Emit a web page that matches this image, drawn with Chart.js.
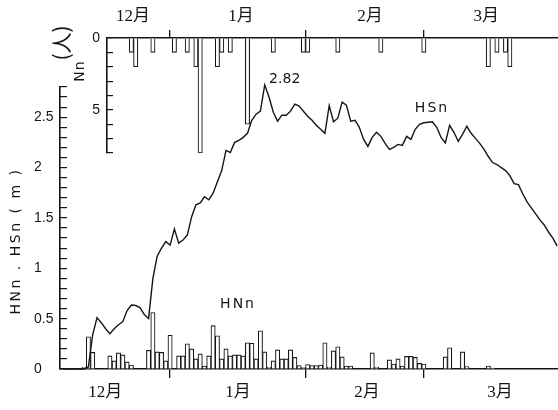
<!DOCTYPE html>
<html><head><meta charset="utf-8">
<script src="https://cdn.jsdelivr.net/npm/chart.js@4.4.1/dist/chart.umd.min.js"></script>
<style>
html,body{margin:0;padding:0;background:#fff;}
#wrap{position:relative;width:558px;height:410px;overflow:hidden;background:#fff;}
canvas{position:absolute;left:0;top:0;}
</style></head><body>
<div id="wrap"><canvas id="main" width="558" height="410"></canvas><canvas id="topc" width="558" height="410"></canvas></div>
<script>
// ---- data (day index: 0 = 1 Dec) ----
const MONTHS = ['12月', '1月', '2月', '3月'];
const MONTH_BOUNDS = [31, 62.5, 90];            // month boundary tick marks
const BOTTOM_LABEL_AT = [15.9, 46.8, 76.8, 107.7];
const TOP_LABEL_AT = [22.4, 47.5, 77.5, 104.5];

// HSn : snow depth (m), daily from day HS_START
const HS_START = 6;
const HS = [
  0, 0, 0, 0, 0, 0, 0.02, 0.34, 0.51, 0.46,
  0.40, 0.35, 0.40, 0.44, 0.47, 0.58, 0.635, 0.63, 0.61, 0.54,
  0.50, 0.90, 1.12, 1.20, 1.265, 1.23, 1.39, 1.25, 1.28, 1.33,
  1.51, 1.63, 1.65, 1.71, 1.68, 1.745, 1.86, 1.97, 2.17, 2.15,
  2.25, 2.27, 2.30, 2.34, 2.47, 2.53, 2.56, 2.82, 2.70, 2.55,
  2.46, 2.52, 2.52, 2.56, 2.63, 2.61, 2.56, 2.51, 2.47, 2.42,
  2.38, 2.34, 2.615, 2.455, 2.49, 2.65, 2.62, 2.46, 2.47, 2.40,
  2.28, 2.21, 2.30, 2.35, 2.31, 2.24, 2.18, 2.20, 2.23, 2.22,
  2.31, 2.28, 2.38, 2.43, 2.445, 2.45, 2.455, 2.40, 2.30, 2.245,
  2.42, 2.35, 2.26, 2.33, 2.41, 2.34, 2.29, 2.24, 2.18, 2.11,
  2.05, 2.03, 2.00, 1.97, 1.92, 1.84, 1.83, 1.74, 1.66, 1.60,
  1.54, 1.48, 1.43, 1.36, 1.30, 1.22
];

// HNn : daily new snow (m)
const HN_DAYS = [11,12,13,17,18,19,20,21,22,26,27,28,29,30,31,
  33,34,35,36,37,38,39,40,41,42,43,44,45,46,47,48,49,50,51,52,53,54,55,56,57,58,59,60,61,62,63,64,65,66,67,68,69,70,71,72,73,
  78,79,82,83,84,85,86,87,88,89,90,95,96,99,100,105,106];
const HN_VALUES = [0.02,0.32,0.165,0.13,0.08,0.16,0.14,0.07,0.04,0.185,0.56,0.17,0.165,0.08,0.335,
  0.13,0.13,0.25,0.20,0.10,0.15,0.03,0.13,0.43,0.33,0.10,0.20,0.13,0.14,0.14,0.13,0.26,0.255,0.10,0.38,0.17,0.02,0.08,0.19,0.10,0.10,0.19,0.115,0.035,0.015,0.045,0.035,0.035,0.04,0.26,0.02,0.18,0.22,0.12,0.03,0.03,
  0.16,0.02,0.09,0.05,0.10,0.03,0.125,0.125,0.115,0.056,0.05,0.12,0.21,0.17,0.025,0.03,0.01];

// Nn : number of persons (人)
const NN_DAYS = [22,23,27,32,35,37,38,42,43,45,49,55,62,63,70,80,90,105,107,109,110];
const NN_VALUES = [1,2,1,1,1,2,8,2,1,1,6,1,1,1,1,1,1,2,1,1,2];

const PEAK_TEXT = '2.82';
const Y_TITLE = 'HNn . HSn ( m )';

// ---- styling ----
const INK = '#151515';
const MONTH_FONT = {family: '"Liberation Serif","Noto Sans CJK JP"', size: 17};
const NUM_FONT = {family: '"Liberation Sans Narrow","Liberation Sans"', size: 14};
const X_MIN = 5.4, X_MAX = 121.2, X_MIN_TOP = 16.33;

function monthTickBuilder(labelAt){
  return s => { s.ticks = [...labelAt, ...MONTH_BOUNDS].sort((a,b)=>a-b).map(v=>({value:v})); };
}
function monthLabel(labelAt){
  return v => { const i = labelAt.indexOf(v); return i >= 0 ? MONTHS[i] : ''; };
}
const boundColor = c => (c.tick && MONTH_BOUNDS.includes(c.tick.value)) ? INK : 'rgba(0,0,0,0)';

const mainText = {
  id: 'mainText',
  afterDatasetsDraw(chart){
    const {ctx, scales:{x, y}} = chart;
    ctx.save();
    ctx.fillStyle = INK;
    ctx.textAlign = 'center';
    ctx.textBaseline = 'middle';
    ctx.font = '14px "DejaVu Sans"';
    ctx.fillText(PEAK_TEXT, x.getPixelForValue(53) + 20, y.getPixelForValue(2.82) - 6);
    ctx.letterSpacing = '2px';
    ctx.fillText('HSn', x.getPixelForValue(91.9), y.getPixelForValue(2.59));
    ctx.fillText('HNn', x.getPixelForValue(46.8), y.getPixelForValue(0.645));
    ctx.translate(16, 241);
    ctx.rotate(-Math.PI/2);
    ctx.letterSpacing = '2.5px';
    ctx.fillText(Y_TITLE, 0, 0);
    ctx.restore();
  }
};

new Chart(document.getElementById('main'), {
  type: 'bar',
  data: {
    datasets: [
      {type:'line', label:'HSn', data: HS.map((v,i)=>({x: HS_START + i, y: v})),
       borderColor: INK, borderWidth: 1.4, pointRadius: 0, tension: 0, clip: false},
      {type:'bar', label:'HNn', data: HN_DAYS.map((d,i)=>({x: d, y: HN_VALUES[i]})),
       backgroundColor:'#fff', borderColor: INK, borderWidth: 1.1, barThickness: 4.3, borderSkipped: 'start'}
    ]
  },
  options: {
    responsive: false, animation: false, events: [],
    layout: {padding: {left: 34, top: 87, right: 0, bottom: 0}},
    plugins: {legend: {display: false}, tooltip: {enabled: false}},
    scales: {
      x: {
        type: 'linear', position: 'bottom', min: X_MIN, max: X_MAX, offset: false,
        afterBuildTicks: monthTickBuilder(BOTTOM_LABEL_AT),
        afterFit: s => { s.height = 41; },
        ticks: {autoSkip: false, maxRotation: 0, padding: 4, color: INK, font: MONTH_FONT, callback: monthLabel(BOTTOM_LABEL_AT)},
        grid: {offset: false, drawOnChartArea: false, tickLength: 9, lineWidth: 1.3, color: boundColor},
        border: {color: INK, width: 1.6}
      },
      y: {
        type: 'linear', position: 'left', min: 0, max: 2.8,
        afterBuildTicks: s => { s.ticks = Array.from({length: 29}, (_, i) => ({value: i / 10})); },
        afterFit: s => { s.width = 26; },
        ticks: {autoSkip: false, crossAlign: 'far', color: INK, font: NUM_FONT,
          callback: v => { const t = Math.round(v * 10); return t % 5 === 0 ? (t % 10 === 0 ? String(t / 10) : (t / 10).toFixed(1)) : ''; }},
        grid: {drawOnChartArea: false, tickLength: -7, lineWidth: 1.2, color: INK},
        border: {color: INK, width: 1.6}
      }
    }
  },
  plugins: [mainText]
});

const topText = {
  id: 'topText',
  afterDraw(chart){
    const ctx = chart.ctx;
    ctx.save();
    ctx.fillStyle = INK;
    ctx.textAlign = 'center';
    ctx.textBaseline = 'middle';
    ctx.save();
    ctx.translate(80, 71);
    ctx.rotate(-Math.PI/2);
    ctx.font = '14px "DejaVu Sans"';
    ctx.letterSpacing = '1px';
    ctx.fillText('Nn', 0, 0);
    ctx.restore();
    ctx.translate(61, 43);
    ctx.rotate(-Math.PI/2);
    ctx.font = '21px "Noto Sans CJK JP"';
    ctx.fillText('(人)', 0, 0);
    ctx.restore();
  }
};

new Chart(document.getElementById('topc'), {
  type: 'bar',
  data: {
    datasets: [
      {label: 'Nn', data: NN_DAYS.map((d,i)=>({x: d, y: NN_VALUES[i]})),
       backgroundColor: '#fff', borderColor: INK, borderWidth: 1.1, barThickness: 4.3, borderSkipped: 'start'}
    ]
  },
  options: {
    responsive: false, animation: false, events: [],
    layout: {padding: {left: 0, top: 0, right: 0, bottom: 257}},
    plugins: {legend: {display: false}, tooltip: {enabled: false}},
    scales: {
      x: {
        type: 'linear', position: 'top', min: X_MIN_TOP, max: X_MAX, offset: false,
        afterBuildTicks: monthTickBuilder(TOP_LABEL_AT),
        afterFit: s => { s.height = 38; },
        ticks: {autoSkip: false, maxRotation: 0, padding: 3, color: INK, font: MONTH_FONT, callback: monthLabel(TOP_LABEL_AT)},
        grid: {offset: false, drawOnChartArea: false, tickLength: 8, lineWidth: 1.3, color: boundColor},
        border: {color: INK, width: 1.6}
      },
      y: {
        type: 'linear', position: 'left', min: 0, max: 8, reverse: true,
        afterBuildTicks: s => { s.ticks = Array.from({length: 9}, (_, i) => ({value: i})); },
        afterFit: s => { s.width = 107; },
        ticks: {autoSkip: false, crossAlign: 'near', padding: 13, color: INK, font: NUM_FONT,
          callback: v => (v === 0 || v === 5) ? String(v) : ''},
        grid: {drawOnChartArea: false, tickLength: -6, lineWidth: 1.2, color: INK},
        border: {color: INK, width: 1.6}
      }
    }
  },
  plugins: [topText]
});
</script>
</body></html>
